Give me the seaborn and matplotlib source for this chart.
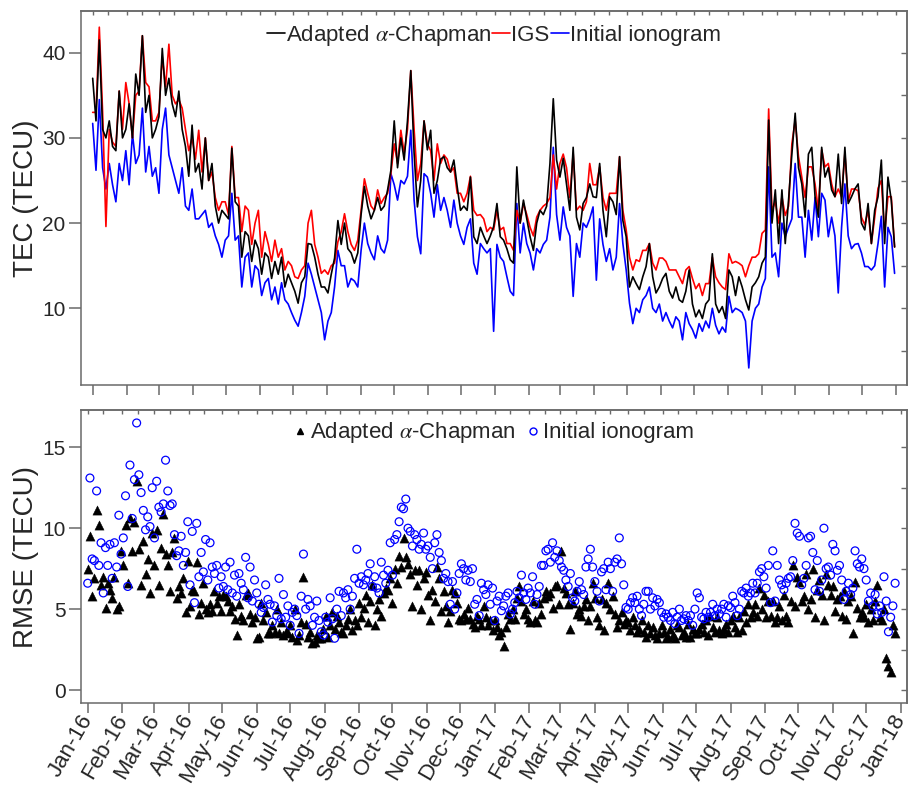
import numpy as np
import pandas as pd
import matplotlib
matplotlib.use("Agg")
import matplotlib.pyplot as plt
import matplotlib.dates as mdates
from matplotlib.lines import Line2D
import seaborn as sns

sns.set_style("ticks")
plt.rcParams["font.family"] = ["Liberation Sans", "DejaVu Sans"]
plt.rcParams["mathtext.fontset"] = "stix"

# ---------------- data ----------------
adapted_tec = [
    37, 32, 41.5, 31, 30, 32, 29, 28.5, 35.5, 30,
    31, 34, 30, 37.5, 35, 42, 33, 35, 30, 31,
    32.5, 40.5, 35, 37, 34, 32.5, 35.5, 31, 29, 25.5,
    31.5, 26, 27, 24, 30, 25, 27, 22, 20, 21.5,
    21, 20.5, 28.8, 22.5, 22, 16, 19, 18.5, 15.5, 18,
    17, 14, 16.5, 16, 13.5, 15.5, 14, 16, 12.5, 14,
    13, 12, 10.6, 13, 13.7, 17.6, 17.5, 16, 14, 12.5,
    12.5, 11.8, 14, 15.9, 20.3, 17.5, 20, 17, 16.5, 15.3,
    16.5, 21, 24.3, 22, 20.5, 21.5, 23, 21.5, 22, 23.9,
    26.2, 32, 26.5, 30, 27.4, 32, 37.9, 28.2, 21.9, 25,
    32, 28.6, 30.9, 23.5, 25, 27.5, 27.8, 26.5, 26, 27.4,
    24.3, 21.5, 22, 21.5, 25.4, 18.4, 17.6, 19.5, 18.5, 17.6,
    18.5, 19.6, 22.3, 18.4, 18, 17, 15.7, 15.3, 26.6, 20,
    22.7, 20.5, 18.4, 16.8, 20, 21.5, 21, 22, 27, 34.6,
    27.4, 25.4, 27.6, 24.6, 21.5, 28.9, 20.7, 19.2, 22.3, 23,
    24.6, 23.1, 23, 27, 21.5, 18.4, 23.1, 22.5, 21, 27.8,
    20.3, 18.4, 12.5, 13.7, 12.9, 12.2, 13.7, 14.9, 17.6, 13.7,
    11.8, 12.5, 13.5, 14.1, 12, 11.2, 12.5, 11, 10.7, 12,
    14.5, 10.5, 9, 9.8, 8.8, 10.5, 11, 16.4, 10.5, 9.5,
    10.2, 8.8, 14.5, 13.7, 11.5, 13.7, 12.5, 11, 9.8, 12.5,
    13, 13.7, 15.3, 16, 32.1, 20, 23.9, 17.6, 23.9, 17.6,
    22.7, 28.1, 32.9, 26.5, 24.6, 20.7, 28.1, 28.9, 23.1, 20.7,
    28.9, 25.4, 26.5, 23.9, 23.1, 28.1, 22.3, 28.9, 22.3, 23.1,
    24, 24.6, 20, 19.2, 22.3, 17.6, 21.5, 23.1, 27.4, 17.6,
    25.4, 22.7, 17.2,
]
igs_tec = [
    33, 33, 43, 33, 19.6, 31, 29.5, 29, 35.5, 31,
    36.5, 34, 30, 35, 35.5, 42, 36.5, 36, 32, 32,
    33, 39.5, 36, 41, 35, 34, 34.5, 33.5, 31, 28.5,
    30, 27.5, 30.9, 26, 30, 25, 26, 23, 21.5, 22.5,
    22.5, 21, 29, 23, 23, 19, 22, 21.5, 17.5, 20,
    21.5, 16, 19, 17.5, 15.5, 18, 16, 17, 14.5, 15.5,
    15, 13.7, 13.5, 14.5, 15, 20, 21.5, 17.5, 16, 14.1,
    14.5, 14, 15, 15.3, 17.8, 19, 21.1, 19, 17.5, 16.8,
    18, 21.5, 25.2, 23.5, 22, 21.5, 23.9, 22.3, 23, 23.5,
    25.8, 29.3, 27, 30.9, 28.2, 31, 37.9, 31, 25, 27,
    32, 29.3, 28.5, 25, 29.3, 27, 28, 27.5, 26, 26.5,
    23.5, 23.5, 22.5, 23.5, 25.5, 21.5, 20.9, 21, 20.5, 19,
    19.5, 19.2, 21.5, 19.2, 19.5, 17.6, 17.6, 16.8, 21.5, 20,
    22.3, 21, 19.5, 18.5, 20.7, 21.5, 22, 22.3, 23, 28,
    24, 27, 28.1, 26.5, 23, 28.2, 21.5, 22, 21.5, 22.5,
    27, 24.5, 24.5, 26.6, 23, 21.5, 23.5, 23.5, 23.5, 27.8,
    21.5, 19.2, 16, 14.5, 15.7, 15.5, 16.8, 16.8, 17.6, 15.3,
    14.5, 15.9, 15.9, 15.5, 14.5, 14.5, 14.5, 13.7, 12.9, 14.5,
    14.9, 13.5, 12.3, 12.9, 11.5, 12.9, 12.9, 16, 13.7, 13,
    12.5, 12.2, 16.4, 15.3, 15.5, 15.3, 15, 13.7, 15, 16,
    16, 16.4, 18.8, 19.2, 33.4, 21.5, 22.5, 20, 23.1, 20.9,
    22, 29.3, 32.1, 27.8, 25.4, 23, 26.6, 26.6, 24.6, 21.5,
    28.6, 26.6, 27, 24.6, 23.1, 24, 23.1, 28.2, 22.6, 24,
    24, 23.8, 20.7, 19.8, 21.5, 17.6, 20.7, 24.1, 25, 18.8,
    23.1, 23.1, 17.2,
]
initial_tec = [
    31.7, 26.2, 34.5, 26.5, 24, 27, 24.5, 22.5, 27, 25,
    28.5, 24.5, 30.5, 27, 28, 33.5, 26, 29, 25.5, 26.5,
    23.5, 31, 33.5, 28, 26.5, 25, 23.5, 26.5, 22, 21.5,
    24, 20.5, 20.5, 21, 21.5, 19.5, 20, 18.5, 17.5, 16,
    18, 18.5, 23.5, 18, 18.5, 12.5, 16, 16.5, 12.5, 15,
    14.5, 11.5, 13, 13.5, 11, 12.5, 10.5, 13, 11, 10.5,
    9.5, 8.6, 7.9, 9.5, 11.4, 15.3, 14, 12.5, 11, 9.5,
    6.3, 8.5, 9.5, 12.5, 16.8, 15, 15, 12.5, 13.5, 13.2,
    12.5, 16.8, 20, 17.6, 16.5, 15.7, 18.5, 17, 16.5, 18,
    25.8, 24.5, 22.7, 25, 24.6, 25.5, 30.9, 22.7, 18.4, 16.4,
    25.8, 25.4, 23.5, 20.7, 24.5, 21.5, 23, 21.5, 19.5, 22.7,
    20, 18.5, 17.5, 19.5, 20.5, 15.3, 14, 17.6, 17, 16.5,
    17, 7.3, 17.5, 16, 15.5, 13.7, 12, 11.5, 22.3, 16.5,
    20, 17.6, 16.5, 14.5, 17, 16.5, 17.5, 18, 20.7, 28.9,
    21, 18, 21.9, 19.5, 18.5, 11.4, 17.6, 16, 20, 19.5,
    20.5, 21.9, 13.3, 20.5, 17.5, 15.5, 17, 14.5, 16, 22.3,
    17.6, 14.5, 10.6, 8.2, 10, 9.5, 11, 11.5, 12.5, 10,
    9.5, 10.5, 8.5, 9.5, 8.5, 7.7, 9, 8.5, 6.3, 9.5,
    8.2, 7.5, 6.5, 8.2, 7.3, 8.5, 7.7, 10, 8, 7,
    7.8, 7.2, 11.4, 9.5, 10, 9.8, 9.5, 8.5, 3.0, 8.5,
    10, 10.5, 12.5, 13.5, 26.6, 16, 16.5, 13.7, 20, 18.4,
    19.5, 20.5, 27, 20.7, 20.7, 16, 21.5, 18, 23, 18.4,
    23.5, 22.7, 18.4, 20.7, 18.5, 11.8, 19.5, 24.6, 18.5, 17,
    17.5, 17.6, 16.5, 14.9, 14.9, 14.5, 15, 17.6, 20.8, 12.5,
    19.5, 18.4, 14.1,
]
adapted_rmse = [
    7.5, 9.5, 5.8, 6.9, 11.1, 10.2, 6.5, 7.0, 5.1, 6.6, 6.2, 5.7, 7.0, 5.0, 5.2,
    8.6, 7.7, 10.2, 6.6, 10.6, 8.6, 10.4, 12.9, 8.7, 6.5, 9.2, 7.2, 8.1, 6.0, 9.7,
    7.7, 9.9, 6.5, 8.8, 10.9, 8.4, 7.7, 6.1, 8.5, 9.4, 5.7, 6.4, 6.0, 6.9, 4.8,
    8.0, 5.2, 6.2, 6.1, 7.9, 4.7, 5.4, 6.6, 5.0, 4.8, 5.3, 4.9, 6.1, 5.4, 5.8,
    4.9, 5.9, 5.8, 5.5, 4.9, 5.2, 4.4, 3.4, 5.3, 4.6, 4.3, 5.9, 6.0, 4.7, 4.2,
    4.5, 3.2, 3.3, 5.4, 4.3, 4.8, 3.5, 3.5, 4.0, 3.6, 5.0, 3.5, 4.2, 3.4, 3.6,
    3.5, 4.0, 3.3, 5.0, 3.1, 3.4, 4.2, 7.0, 4.1, 3.3, 3.6, 2.9, 3.0, 3.4, 3.2,
    3.2, 3.8, 4.6, 3.3, 4.0, 4.8, 3.8, 4.6, 4.2, 3.6, 3.5, 4.0, 4.4, 5.0, 3.7,
    4.3, 4.0, 5.4, 4.5, 5.1, 5.9, 4.2, 5.5, 6.5, 4.0, 5.0, 5.6, 4.6, 6.0, 6.3,
    6.2, 6.9, 5.4, 7.5, 6.6, 8.3, 7.6, 9.4, 8.2, 7.8, 7.2, 5.2, 7.4, 6.5, 7.4,
    5.0, 6.9, 7.3, 5.9, 4.3, 6.2, 5.5, 7.6, 6.9, 4.9, 6.1, 5.2, 4.2, 4.9, 6.2,
    6.0, 5.4, 4.4, 4.3, 4.7, 4.4, 5.1, 4.4, 4.1, 3.9, 4.6, 4.4, 4.0, 5.2, 4.5,
    4.0, 4.3, 3.7, 4.3, 3.9, 3.4, 3.6, 2.7, 3.9, 4.7, 4.4, 5.0, 4.4, 5.7, 6.4,
    5.5, 4.7, 5.0, 4.4, 4.2, 5.5, 4.3, 4.2, 5.4, 4.7, 5.7, 6.1, 5.8, 6.0, 5.1,
    6.4, 6.5, 5.3, 8.6, 6.3, 6.0, 5.3, 3.8, 5.4, 6.1, 4.7, 5.0, 4.6, 5.2, 5.6,
    4.3, 5.2, 6.6, 5.7, 4.5, 4.0, 5.6, 3.7, 5.4, 6.6, 5.0, 5.8, 4.7, 3.9, 4.3,
    4.8, 4.1, 4.3, 4.2, 3.7, 4.5, 4.0, 3.6, 3.8, 4.3, 3.6, 3.3, 4.0, 3.5, 3.9,
    3.4, 3.2, 3.5, 4.0, 3.6, 3.2, 3.3, 3.8, 3.4, 3.2, 4.0, 3.9, 3.4, 3.6, 3.3,
    4.1, 3.3, 3.8, 3.5, 3.5, 3.8, 4.1, 3.6, 4.3, 3.4, 4.6, 3.9, 3.6, 4.5, 3.7,
    3.5, 3.8, 4.1, 3.6, 4.3, 4.6, 3.9, 3.6, 4.5, 3.7, 4.9, 4.2, 5.3, 4.5, 4.8,
    5.3, 4.6, 6.3, 5.0, 5.9, 4.5, 5.5, 4.6, 5.5, 4.2, 4.5, 5.2, 4.3, 5.9, 4.6,
    4.2, 5.5, 7.7, 5.2, 7.0, 6.7, 5.5, 5.8, 7.2, 5.0, 5.6, 7.5, 4.5, 6.2, 6.8,
    5.9, 4.3, 7.2, 6.5, 5.9, 6.4, 4.9, 5.6, 5.8, 4.6, 6.1, 4.4, 5.5, 5.8, 3.5,
    6.7, 5.1, 4.5, 4.8, 4.5, 5.3, 4.2, 5.0, 4.3, 5.5, 6.5, 4.5, 4.3, 5.0, 2.0,
    1.5, 1.1, 4.0, 3.5,
]
initial_rmse = [
    6.6, 13.1, 8.1, 8.0, 12.3, 7.7, 9.1, 6.0, 8.8, 7.7, 9.0, 6.9, 9.1, 7.6, 10.8,
    8.4, 9.4, 12.0, 6.4, 13.9, 10.6, 13.0, 16.5, 13.3, 12.2, 11.1, 9.9, 10.7, 10.1, 12.5,
    9.4, 12.9, 11.3, 11.0, 11.5, 14.2, 12.3, 11.4, 11.5, 9.6, 8.3, 8.6, 9.5, 7.7, 8.5,
    10.4, 6.5, 9.8, 5.4, 10.3, 7.0, 8.5, 7.3, 9.3, 6.8, 9.1, 7.6, 7.2, 7.7, 6.3,
    7.0, 6.4, 7.6, 6.2, 7.9, 6.0, 7.1, 5.8, 7.2, 6.6, 6.2, 8.2, 5.7, 7.6, 5.5,
    6.8, 6.0, 5.3, 4.8, 5.1, 6.5, 5.6, 5.3, 4.2, 5.2, 4.6, 6.9, 4.4, 5.9, 4.5,
    5.2, 4.0, 4.8, 5.0, 4.6, 3.5, 5.8, 8.4, 5.0, 5.6, 5.2, 4.0, 4.5, 5.5, 4.3,
    3.6, 3.4, 4.5, 4.2, 5.7, 4.4, 3.2, 5.0, 6.1, 4.6, 6.0, 5.7, 6.2, 5.0, 5.8,
    6.9, 8.7, 6.6, 7.0, 6.5, 6.8, 7.2, 7.8, 6.4, 7.0, 6.3, 6.0, 7.9, 7.1, 6.6,
    7.4, 9.1, 7.1, 9.3, 9.6, 10.4, 11.3, 11.2, 11.8, 10.0, 9.8, 8.9, 9.6, 9.3, 8.7,
    9.0, 9.7, 8.7, 8.9, 8.2, 7.5, 9.1, 9.6, 8.5, 8.0, 6.9, 7.2, 6.7, 5.3, 6.7,
    5.0, 6.0, 7.2, 7.8, 7.5, 6.8, 7.4, 6.7, 7.5, 5.3, 5.6, 4.6, 6.6, 6.2, 5.9,
    6.5, 5.3, 6.3, 4.3, 5.5, 5.8, 4.9, 5.2, 5.8, 6.0, 4.7, 5.0, 5.4, 6.1, 5.7,
    7.1, 6.0, 5.6, 6.3, 6.0, 7.0, 5.3, 5.9, 6.4, 7.7, 7.7, 8.6, 8.7, 7.9, 9.1,
    8.2, 8.6, 8.0, 7.6, 7.4, 6.8, 6.4, 7.2, 5.7, 5.5, 6.1, 6.7, 6.2, 5.9, 7.6,
    8.1, 8.7, 7.6, 6.7, 6.1, 5.5, 7.3, 7.5, 6.2, 7.9, 7.5, 6.1, 7.9, 8.1, 9.4,
    7.8, 6.5, 5.1, 5.0, 5.4, 5.7, 5.4, 5.8, 5.0, 4.6, 5.3, 6.1, 6.1, 5.0, 5.7,
    5.2, 5.6, 5.4, 4.8, 4.5, 4.7, 4.5, 4.3, 4.8, 4.1, 4.5, 5.0, 4.3, 4.4, 4.6,
    4.3, 4.6, 4.0, 5.0, 6.0, 5.7, 4.5, 4.4, 4.8, 4.5, 4.8, 5.3, 4.6, 5.0, 4.7,
    5.0, 5.3, 4.5, 5.2, 5.1, 5.8, 5.4, 4.6, 5.0, 6.1, 6.0, 6.3, 5.8, 6.0, 6.6,
    6.0, 6.6, 7.3, 7.5, 7.0, 6.3, 7.7, 5.4, 8.6, 5.5, 7.7, 6.8, 6.5, 6.2, 6.6,
    6.9, 7.0, 8.0, 10.3, 9.7, 9.5, 6.5, 6.9, 7.7, 9.4, 9.5, 8.5, 6.2, 8.0, 6.1,
    6.8, 10.0, 7.5, 7.6, 7.1, 9.0, 8.6, 7.4, 7.7, 6.8, 5.6, 6.1, 6.6, 5.9, 6.3,
    8.6, 7.8, 7.6, 8.1, 7.5, 6.8, 5.5, 6.0, 5.2, 5.9, 4.7, 5.2, 4.8, 7.0, 5.5,
    3.6, 4.5, 5.2, 6.6,
]
series_labels = ["Adapted $\\alpha$-Chapman", "IGS", "Initial ionogram"]
series_colors = ["black", "#ff0000", "#0000ff"]

tec_dates = pd.date_range("2016-01-01", "2017-12-31", periods=len(adapted_tec))
rmse_dates = pd.date_range("2016-01-01", periods=len(adapted_rmse), freq="2D")

# ---------------- figure ----------------
gray = "#6a6a6a"
fig = plt.figure(figsize=(9.15, 7.9), dpi=100)
ax1 = fig.add_axes([0.0882, 0.5127, 0.9027, 0.4734])
ax2 = fig.add_axes([0.0882, 0.1101, 0.9027, 0.3709])

sns.lineplot(x=tec_dates, y=initial_tec, ax=ax1, color=series_colors[2], linewidth=1.2)
sns.lineplot(x=tec_dates, y=igs_tec, ax=ax1, color=series_colors[1], linewidth=1.2)
sns.lineplot(x=tec_dates, y=adapted_tec, ax=ax1, color=series_colors[0], linewidth=1.2)

sns.scatterplot(x=rmse_dates, y=adapted_rmse, ax=ax2, marker="^", color="black",
                s=44, edgecolor="black", linewidth=0.3, zorder=2)
sns.scatterplot(x=rmse_dates, y=initial_rmse, ax=ax2, marker="o", facecolor="none",
                edgecolor="#0000ff", s=32, linewidth=0.9, zorder=3)

t0 = pd.Timestamp("2016-01-01")
d = pd.Timedelta(days=1)


def style(ax, xlim, ylim, yticks, right_ticks, labels):
    ax.set_xlim(xlim)
    ax.set_ylim(ylim)
    ax.set_yticks(yticks)
    ax.xaxis.set_major_locator(mdates.MonthLocator())
    ax.xaxis.set_major_formatter(mdates.DateFormatter("%b-%y"))
    ax.tick_params(axis="both", direction="out", color=gray, width=1.1)
    ax.tick_params(axis="x", length=7.5, labelsize=16, pad=2, labelbottom=labels)
    ax.tick_params(axis="y", length=9, labelsize=15, pad=2)
    for s in ax.spines.values():
        s.set_visible(True)
        s.set_color(gray)
        s.set_linewidth(1.1)
    sec = ax.secondary_xaxis("top")
    sec.set_xticks(mdates.date2num(pd.date_range("2015-12-15", "2018-01-20", freq="SMS")))
    sec.tick_params(direction="in", length=3, color=gray, width=1.0, labeltop=False)
    sec.spines["top"].set_color(gray)
    sec.spines["top"].set_linewidth(1.1)
    secy = ax.secondary_yaxis("right")
    secy.set_yticks(right_ticks)
    secy.tick_params(direction="in", length=4, color=gray, width=1.0, labelright=False)
    secy.spines["right"].set_color(gray)
    secy.spines["right"].set_linewidth(1.1)
    ax.set_xlabel("")


style(ax1, (t0 - 10.9 * d, t0 + 741 * d), (1.0, 44.9), [10, 20, 30, 40],
      [5, 10, 15, 20, 25, 30, 35, 40], False)
style(ax2, (t0 - 6.3 * d, t0 + 736.4 * d), (-0.8, 17.3), [0, 5, 10, 15],
      [0, 2.5, 5, 7.5, 10, 12.5, 15], True)

for lab in ax2.get_xticklabels():
    lab.set_rotation(60)
    lab.set_ha("right")
    lab.set_va("center")
    lab.set_rotation_mode("anchor")

ax1.set_ylabel("TEC (TECU)", fontsize=20)
ax2.set_ylabel("RMSE (TECU)", fontsize=20)
ax1.yaxis.set_label_coords(-0.050, 0.5)
ax2.yaxis.set_label_coords(-0.050, 0.5)

h1 = [Line2D([], [], color=c, lw=1.2) for c in series_colors]
ax1.legend(h1, series_labels, loc="upper center", bbox_to_anchor=(0.5, 1.015), ncol=3,
           frameon=False, fontsize=16, handlelength=0.8, handletextpad=0.05,
           columnspacing=0.05, borderpad=0.3)

h2 = [Line2D([], [], marker="^", color="black", ls="", ms=5),
      Line2D([], [], marker="o", mfc="none", mec="#0000ff", ls="", ms=5)]
ax2.legend(h2, [series_labels[0], series_labels[2]], loc="upper center",
           bbox_to_anchor=(0.5, 1.025), ncol=2, frameon=False, fontsize=16,
           handlelength=0.6, handletextpad=0.15, columnspacing=0.5, borderpad=0.3)

fig.savefig("out.png", dpi=100)
